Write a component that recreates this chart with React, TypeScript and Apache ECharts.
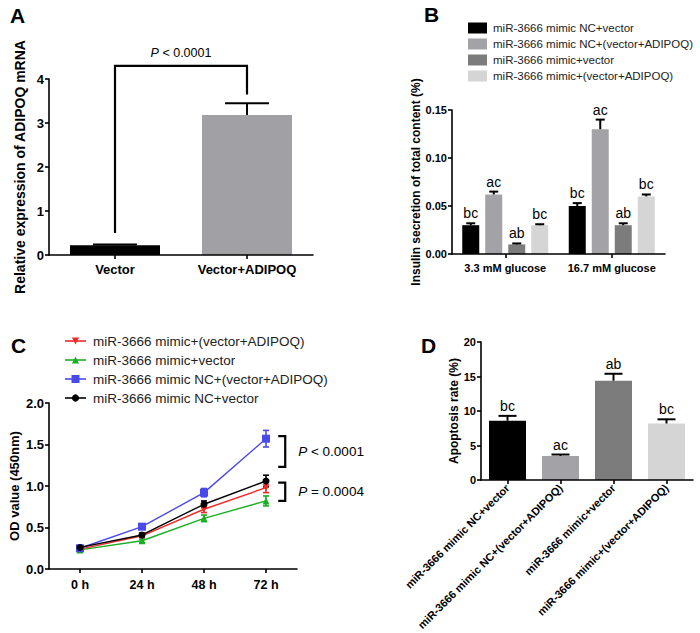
import React, { useEffect, useRef } from "react";
import * as echarts from "echarts";

const FONT = "'Liberation Sans', Arial, Helvetica, sans-serif";

// ---------- Panel A ----------
const catsA = ["Vector", "Vector+ADIPOQ"];
const valsA = [0.22, 3.18];
const errA = [0.02, 0.27];
const colorsA = ["#000000", "#a1a1a5"];
const sigA = { from: 0, to: 1, top: 4.3, leftEnd: 0.5, rightEnd: 3.65, label: " < 0.0001" };

// ---------- Panel B ----------
const catsB = ["3.3 mM glucose", "16.7 mM glucose"];
const namesB = [
  "miR-3666 mimic NC+vector",
  "miR-3666 mimic NC+(vector+ADIPOQ)",
  "miR-3666 mimic+vector",
  "miR-3666 mimic+(vector+ADIPOQ)",
];
const colorsB = ["#000000", "#a3a3a7", "#7c7c7c", "#d5d5d5"];
const valsB = [
  [0.030, 0.050],
  [0.062, 0.130],
  [0.010, 0.030],
  [0.030, 0.060],
];
const errB = [
  [0.002, 0.003],
  [0.003, 0.010],
  [0.001, 0.002],
  [0.001, 0.002],
];
const lettersB = [
  ["bc", "bc"],
  ["ac", "ac"],
  ["ab", "ab"],
  ["bc", "bc"],
];

// ---------- Panel C ----------
const catsC = ["0 h", "24 h", "48 h", "72 h"];
const namesC = [
  "miR-3666 mimic+(vector+ADIPOQ)",
  "miR-3666 mimic+vector",
  "miR-3666 mimic NC+(vector+ADIPOQ)",
  "miR-3666 mimic NC+vector",
];
const colorsC = ["#ee2a2a", "#1aae22", "#4a4aea", "#000000"];
const symbolsC = ["triangle", "triangle", "rect", "circle"];
const symbolRotC = [180, 0, 0, 0];
const symbolSizeC = [7, 7, 8, 7];
const valsC = [
  [0.24, 0.40, 0.72, 0.98],
  [0.23, 0.34, 0.61, 0.82],
  [0.25, 0.51, 0.92, 1.57],
  [0.26, 0.41, 0.78, 1.06],
];
const errC = [
  [0.01, 0.02, 0.04, 0.06],
  [0.01, 0.02, 0.04, 0.06],
  [0.01, 0.02, 0.05, 0.10],
  [0.01, 0.02, 0.04, 0.07],
];
const bracketsC = [
  { top: 1.60, bottom: 1.23, label: " < 0.0001" },
  { top: 1.04, bottom: 0.82, label: " = 0.0004" },
];

// ---------- Panel D ----------
const catsD = namesB;
const valsD = [8.6, 3.5, 14.4, 8.2];
const errD = [0.7, 0.2, 1.0, 0.6];
const lettersD = ["bc", "ac", "ab", "bc"];
const colorsD = colorsB;

// ---------- layout / style ----------
const BAR_W_B = 17;
const BAR_GAP_B = 6;
const AX = { color: "#000", width: 1.6 };

function axisCommon() {
  return {
    axisLine: { show: true, lineStyle: { ...AX } },
    axisTick: { show: true, length: 4, lineStyle: { ...AX } },
    splitLine: { show: false },
  };
}

function catAxis(grid: number, data: string[], fontSize: number, margin: number, extra: any = {}) {
  return {
    type: "category",
    gridIndex: grid,
    data,
    z: 10,
    ...axisCommon(),
    axisTick: { show: true, length: 4, alignWithLabel: true, lineStyle: { ...AX } },
    axisLabel: {
      color: "#000",
      fontFamily: FONT,
      fontWeight: "bold",
      fontSize,
      margin,
      interval: 0,
      ...extra,
    },
  };
}

function valAxis(
  grid: number,
  min: number,
  max: number,
  interval: number,
  digits: number,
  fontSize: number,
  name: string,
  nameSize: number,
  nameGap: number
) {
  return {
    type: "value",
    gridIndex: grid,
    min,
    max,
    interval,
    z: 10,
    ...axisCommon(),
    axisLabel: {
      color: "#000",
      fontFamily: FONT,
      fontWeight: "bold",
      fontSize,
      margin: 5,
      formatter: (v: number) => v.toFixed(digits),
    },
    name,
    nameLocation: "middle",
    nameRotate: 90,
    nameGap,
    nameTextStyle: { color: "#000", fontFamily: FONT, fontWeight: "bold", fontSize: nameSize },
  };
}

// error bar (upward only) + letter above, for bar charts
function barErrSeries(
  grid: number,
  vals: number[],
  errs: number[],
  letters: string[] | null,
  offsetPx: number,
  capW: number,
  letterSize: number
) {
  return {
    type: "custom",
    xAxisIndex: grid,
    yAxisIndex: grid,
    clip: false,
    z: 6,
    silent: true,
    data: vals.map((v, i) => [i, v, errs[i]]),
    renderItem: (params: any, api: any) => {
      const c = api.value(0);
      const v = api.value(1);
      const e = api.value(2);
      const p0 = api.coord([c, v]);
      const p1 = api.coord([c, v + e]);
      const x = p0[0] + offsetPx;
      const children: any[] = [
        { type: "line", shape: { x1: x, y1: p0[1], x2: x, y2: p1[1] }, style: { stroke: "#000", lineWidth: 2 } },
        {
          type: "line",
          shape: { x1: x - capW / 2, y1: p1[1], x2: x + capW / 2, y2: p1[1] },
          style: { stroke: "#000", lineWidth: 2 },
        },
      ];
      if (letters) {
        children.push({
          type: "text",
          x,
          y: p1[1] - 3,
          style: {
            text: letters[params.dataIndex],
            fill: "#000",
            fontFamily: FONT,
            fontSize: letterSize,
            align: "center",
            verticalAlign: "bottom",
          },
        });
      }
      return { type: "group", children };
    },
  };
}

// symmetric error bars for line chart
function lineErrSeries(grid: number, vals: number[], errs: number[], color: string) {
  return {
    type: "custom",
    xAxisIndex: grid,
    yAxisIndex: grid,
    clip: false,
    z: 3,
    silent: true,
    data: vals.map((v, i) => [i, v, errs[i]]),
    renderItem: (params: any, api: any) => {
      const c = api.value(0);
      const v = api.value(1);
      const e = api.value(2);
      const pt = api.coord([c, v + e]);
      const pb = api.coord([c, v - e]);
      const x = pt[0];
      const cw = 3;
      const st = { stroke: color, lineWidth: 1.6 };
      return {
        type: "group",
        children: [
          { type: "line", shape: { x1: x, y1: pt[1], x2: x, y2: pb[1] }, style: st },
          { type: "line", shape: { x1: x - cw, y1: pt[1], x2: x + cw, y2: pt[1] }, style: st },
          { type: "line", shape: { x1: x - cw, y1: pb[1], x2: x + cw, y2: pb[1] }, style: st },
        ],
      };
    },
  };
}

function buildOption() {
  const series: any[] = [];

  // ---- A ----
  series.push({
    type: "bar",
    xAxisIndex: 0,
    yAxisIndex: 0,
    barWidth: 90,
    data: valsA.map((v, i) => ({ value: v, itemStyle: { color: colorsA[i] } })),
  });
  series.push(barErrSeries(0, valsA, errA, null, 0, 44, 13));
  series.push({
    type: "custom",
    xAxisIndex: 0,
    yAxisIndex: 0,
    clip: false,
    silent: true,
    z: 7,
    data: [[sigA.from, sigA.to, sigA.top, sigA.leftEnd, sigA.rightEnd]],
    renderItem: (params: any, api: any) => {
      const a = api.value(0);
      const b = api.value(1);
      const top = api.value(2);
      const pl = api.coord([a, api.value(3)]);
      const plt = api.coord([a, top]);
      const prt = api.coord([b, top]);
      const pr = api.coord([b, api.value(4)]);
      return {
        type: "group",
        children: [
          {
            type: "polyline",
            shape: { points: [pl, plt, prt, pr] },
            style: { stroke: "#000", lineWidth: 2.2, fill: null },
          },
          {
            type: "text",
            x: (plt[0] + prt[0]) / 2,
            y: plt[1] - 6,
            style: {
              text: "{i|P}" + sigA.label,
              fill: "#000",
              fontFamily: FONT,
              fontSize: 12.5,
              align: "center",
              verticalAlign: "bottom",
              rich: { i: { fontStyle: "italic", fontFamily: FONT, fontSize: 12.5, fill: "#000" } },
            },
          },
        ],
      };
    },
  });

  // ---- B ----
  namesB.forEach((n, k) => {
    series.push({
      type: "bar",
      name: n,
      xAxisIndex: 1,
      yAxisIndex: 1,
      barWidth: BAR_W_B,
      barGap: (BAR_GAP_B / BAR_W_B) * 100 + "%",
      itemStyle: { color: colorsB[k] },
      data: valsB[k],
    });
  });
  namesB.forEach((n, k) => {
    const off = (k - (namesB.length - 1) / 2) * (BAR_W_B + BAR_GAP_B);
    series.push(barErrSeries(1, valsB[k], errB[k], lettersB[k], off, 9, 14));
  });

  // ---- C ----
  const drawOrder = [1, 0, 2, 3];
  drawOrder.forEach((k, j) => {
    series.push(lineErrSeries(2, valsC[k], errC[k], colorsC[k]));
    series.push({
      type: "line",
      name: namesC[k],
      xAxisIndex: 2,
      yAxisIndex: 2,
      z: 4 + j,
      data: valsC[k],
      symbol: symbolsC[k],
      symbolRotate: symbolRotC[k],
      symbolSize: symbolSizeC[k],
      showAllSymbol: true,
      lineStyle: { color: colorsC[k], width: 1.4 },
      itemStyle: { color: colorsC[k] },
    });
  });
  series.push({
    type: "custom",
    xAxisIndex: 2,
    yAxisIndex: 2,
    clip: false,
    silent: true,
    z: 8,
    data: bracketsC.map((b) => [catsC.length - 1, b.top, b.bottom]),
    renderItem: (params: any, api: any) => {
      const c = api.value(0);
      const pt = api.coord([c, api.value(1)]);
      const pb = api.coord([c, api.value(2)]);
      const band = api.size([1, 0])[0];
      const xr = pt[0] + band * 0.31;
      const xl = xr - 7;
      return {
        type: "group",
        children: [
          {
            type: "polyline",
            shape: { points: [[xl, pt[1]], [xr, pt[1]], [xr, pb[1]], [xl, pb[1]]] },
            style: { stroke: "#000", lineWidth: 2.2, fill: null },
          },
          {
            type: "text",
            x: xr + 13,
            y: (pt[1] + pb[1]) / 2,
            style: {
              text: "{i|P}" + bracketsC[params.dataIndex].label,
              fill: "#000",
              fontFamily: FONT,
              fontSize: 13.5,
              align: "left",
              verticalAlign: "middle",
              rich: { i: { fontStyle: "italic", fontFamily: FONT, fontSize: 13.5, fill: "#000" } },
            },
          },
        ],
      };
    },
  });

  // ---- D ----
  series.push({
    type: "bar",
    xAxisIndex: 3,
    yAxisIndex: 3,
    barWidth: 37,
    data: valsD.map((v, i) => ({ value: v, itemStyle: { color: colorsD[i] } })),
  });
  series.push(barErrSeries(3, valsD, errD, lettersD, 0, 18, 14));

  // ---- graphics: panel letters & legends ----
  const graphic: any[] = [];
  const panelLetter = (t: string, x: number, y: number) => ({
    type: "text",
    x,
    y,
    style: { text: t, fill: "#000", fontFamily: FONT, fontWeight: "bold", fontSize: 21 },
  });
  graphic.push(panelLetter("A", 10, 5));
  graphic.push(panelLetter("B", 424, 4));
  graphic.push(panelLetter("C", 11, 335));
  graphic.push(panelLetter("D", 421, 335));

  namesB.forEach((n, k) => {
    const cy = 28 + k * 16;
    graphic.push({
      type: "rect",
      shape: { x: 468, y: cy - 5.5, width: 19, height: 11 },
      style: { fill: colorsB[k] },
    });
    graphic.push({
      type: "text",
      x: 493,
      y: cy,
      style: { text: n, fill: "#222", fontFamily: FONT, fontSize: 11.5, verticalAlign: "middle" },
    });
  });

  namesC.forEach((n, k) => {
    const cy = 341 + k * 19;
    const cx = 75.5;
    const col = colorsC[k];
    graphic.push({
      type: "line",
      shape: { x1: 65, y1: cy, x2: 86, y2: cy },
      style: { stroke: col, lineWidth: 1.6 },
    });
    const s = 3.6;
    if (symbolsC[k] === "triangle" && symbolRotC[k] === 180) {
      graphic.push({
        type: "polygon",
        shape: { points: [[cx - s, cy - s], [cx + s, cy - s], [cx, cy + s]] },
        style: { fill: col },
      });
    } else if (symbolsC[k] === "triangle") {
      graphic.push({
        type: "polygon",
        shape: { points: [[cx - s, cy + s], [cx + s, cy + s], [cx, cy - s]] },
        style: { fill: col },
      });
    } else if (symbolsC[k] === "rect") {
      graphic.push({ type: "rect", shape: { x: cx - 4, y: cy - 4, width: 8, height: 8 }, style: { fill: col } });
    } else {
      graphic.push({ type: "circle", shape: { cx, cy, r: 3.6 }, style: { fill: col } });
    }
    graphic.push({
      type: "text",
      x: 93,
      y: cy,
      style: { text: n, fill: "#222", fontFamily: FONT, fontSize: 13.5, verticalAlign: "middle" },
    });
  });

  return {
    animation: false,
    backgroundColor: "#ffffff",
    textStyle: { fontFamily: FONT },
    grid: [
      { left: 49, top: 79, width: 264, height: 176 },
      { left: 452, top: 110, width: 213, height: 144 },
      { left: 49, top: 403, width: 248, height: 166 },
      { left: 481, top: 342, width: 212, height: 141 },
    ],
    xAxis: [
      catAxis(0, catsA, 13, 8),
      catAxis(1, catsB, 11, 8),
      catAxis(2, catsC, 12.5, 9),
      catAxis(3, catsD, 11, 6, { rotate: 45 }),
    ],
    yAxis: [
      valAxis(0, 0, 4, 1, 0, 13, "Relative expression of ADIPOQ mRNA", 14, 22),
      valAxis(1, 0, 0.15, 0.05, 2, 11, "Insulin secretion of total content (%)", 12, 30),
      valAxis(2, 0, 2, 0.5, 1, 13, "OD value (450nm)", 13, 28),
      valAxis(3, 0, 20, 5, 0, 11, "Apoptosis rate (%)", 12, 20),
    ],
    series,
    graphic,
  };
}

export default function App() {
  const ref = useRef<HTMLDivElement>(null);
  useEffect(() => {
    if (!ref.current) return;
    const chart = echarts.init(ref.current, undefined, { renderer: "svg" });
    chart.setOption(buildOption() as any);
    return () => chart.dispose();
  }, []);
  return (
    <div
      ref={ref}
      style={{ position: "fixed", left: 0, top: 0, width: 700, height: 633, background: "#fff" }}
    />
  );
}
